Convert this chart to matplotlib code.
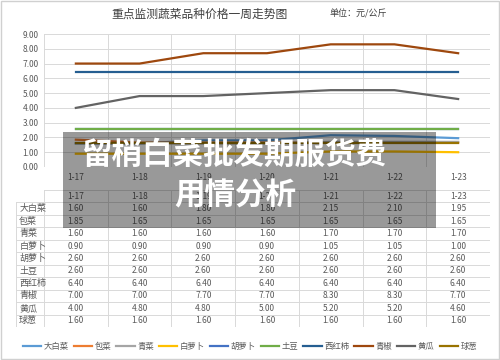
import matplotlib
matplotlib.use('Agg')
import matplotlib.pyplot as plt
from matplotlib.patches import Rectangle

plt.rcParams['font.family'] = ['Noto Sans CJK SC', 'DejaVu Sans']

# data
dates = ['1-17', '1-18', '1-19', '1-20', '1-21', '1-22', '1-23']
names = ['大白菜', '包菜', '青菜', '白萝卜', '胡萝卜', '土豆', '西红柿', '青椒', '黄瓜', '球葱']
dabaicai = [1.60, 1.60, 1.80, 1.80, 2.15, 2.10, 1.95]
baocai = [1.85, 1.65, 1.65, 1.65, 1.65, 1.65, 1.65]
qingcai = [1.60, 1.60, 1.60, 1.60, 1.70, 1.70, 1.70]
bailuobo = [0.90, 0.90, 0.90, 0.90, 1.05, 1.05, 1.00]
huluobo = [2.60, 2.60, 2.60, 2.60, 2.60, 2.60, 2.60]
tudou = [2.60, 2.60, 2.60, 2.60, 2.60, 2.60, 2.60]
xihongshi = [6.40, 6.40, 6.40, 6.40, 6.40, 6.40, 6.40]
qingjiao = [7.00, 7.00, 7.70, 7.70, 8.30, 8.30, 7.70]
huanggua = [4.00, 4.80, 4.80, 5.00, 5.20, 5.20, 4.60]
qiucong = [1.60, 1.60, 1.60, 1.60, 1.60, 1.60, 1.60]
series = [dabaicai, baocai, qingcai, bailuobo, huluobo, tudou, xihongshi, qingjiao, huanggua, qiucong]
colors = ['#5B9BD5', '#ED7D31', '#A5A5A5', '#FFC000', '#4472C4',
          '#70AD47', '#255E91', '#9E480E', '#636363', '#997300']

W, H = 500, 360
fig = plt.figure(figsize=(W / 100, H / 100), dpi=100)

def box(x0, y0, x1, y1):
    # pixel box (top-left origin) -> figure fraction rect
    return [x0 / W, 1 - y1 / H, (x1 - x0) / W, (y1 - y0) / H]

grid_c = '#D9D9D9'
txt_c = '#595959'

# chart
ax = fig.add_axes(box(44, 34, 490, 167))
x = list(range(len(dates)))
for s, c, n in zip(series, colors, names):
    ax.plot(x, s, color=c, lw=1.6, label=n)
ax.set_xlim(-0.5, len(dates) - 0.5)
ax.set_ylim(0, 9)
ax.set_yticks(range(10))
ax.set_yticklabels([f'{v:.2f}' for v in range(10)], fontsize=6, color=txt_c)
ax.set_xticks(x)
ax.set_xticklabels(dates, fontsize=6, color=txt_c)
for b in [i - 0.5 for i in range(len(dates) + 1)]:
    ax.axvline(b, color=grid_c, lw=0.7, zorder=0)
ax.grid(axis='y', color=grid_c, lw=0.7)
ax.set_axisbelow(True)
ax.tick_params(length=0, pad=4)
for sp in ax.spines.values():
    sp.set_visible(False)

fig.text(200 / W, 1 - 14 / H, '重点监测蔬菜品种价格一周走势图', ha='center', va='center',
         fontsize=8.5, color='#404040')
fig.text(330 / W, 1 - 14 / H, '单位：元/公斤', ha='left', va='center',
         fontsize=6.5, color='#404040')

# data table
band = (490 - 44) / len(dates)
left = -0.5 - (44 - 16) / band
tax = fig.add_axes(box(16, 190, 490, 327))
nrows = len(names) + 1
tax.set_xlim(left, len(dates) - 0.5)
tax.set_ylim(nrows, 0)
tax.axis('off')
for r in range(nrows + 1):
    x_start = -0.5 if r == 0 else left
    tax.plot([x_start, len(dates) - 0.5], [r, r], color=grid_c, lw=0.7)
tax.plot([left, left], [1, nrows], color=grid_c, lw=0.7)
for b in [i - 0.5 for i in range(len(dates) + 1)]:
    tax.plot([b, b], [0, nrows], color=grid_c, lw=0.7)
for i, d in enumerate(dates):
    tax.text(i, 0.5, d, ha='center', va='center', fontsize=6, color=txt_c)
for r, (n, s) in enumerate(zip(names, series), start=1):
    tax.text(left + 0.05, r + 0.5, n, ha='left', va='center', fontsize=6.5, color=txt_c)
    for i, v in enumerate(s):
        tax.text(i, r + 0.5, f'{v:.2f}', ha='center', va='center', fontsize=6, color=txt_c)

# legend
fig.legend(*ax.get_legend_handles_labels(), loc='center', bbox_to_anchor=(0.5, 1 - 346 / H),
           ncol=10, frameon=False, fontsize=6, handlelength=2.2, handletextpad=0.3,
           columnspacing=0.6, labelcolor=txt_c)

# outer border
fig.patches.append(Rectangle((0.002, 0.003), 0.996, 0.994, transform=fig.transFigure,
                             fill=False, ec='#D0D0D0', lw=1))

# grey overlay with headline
fig.patches.append(Rectangle((63 / W, 1 - 228 / H), 373 / W, 96 / H, transform=fig.transFigure,
                             color='black', alpha=0.4, lw=0, zorder=5))
fig.text(234 / W, 1 - 155 / H, '留梢白菜批发期服货费', ha='center', va='center',
         fontsize=22, fontweight='bold', color='white', zorder=6)
fig.text(235 / W, 1 - 195 / H, '用情分析', ha='center', va='center',
         fontsize=22, fontweight='bold', color='white', zorder=6)

fig.savefig('out.png', dpi=100, facecolor='white')
